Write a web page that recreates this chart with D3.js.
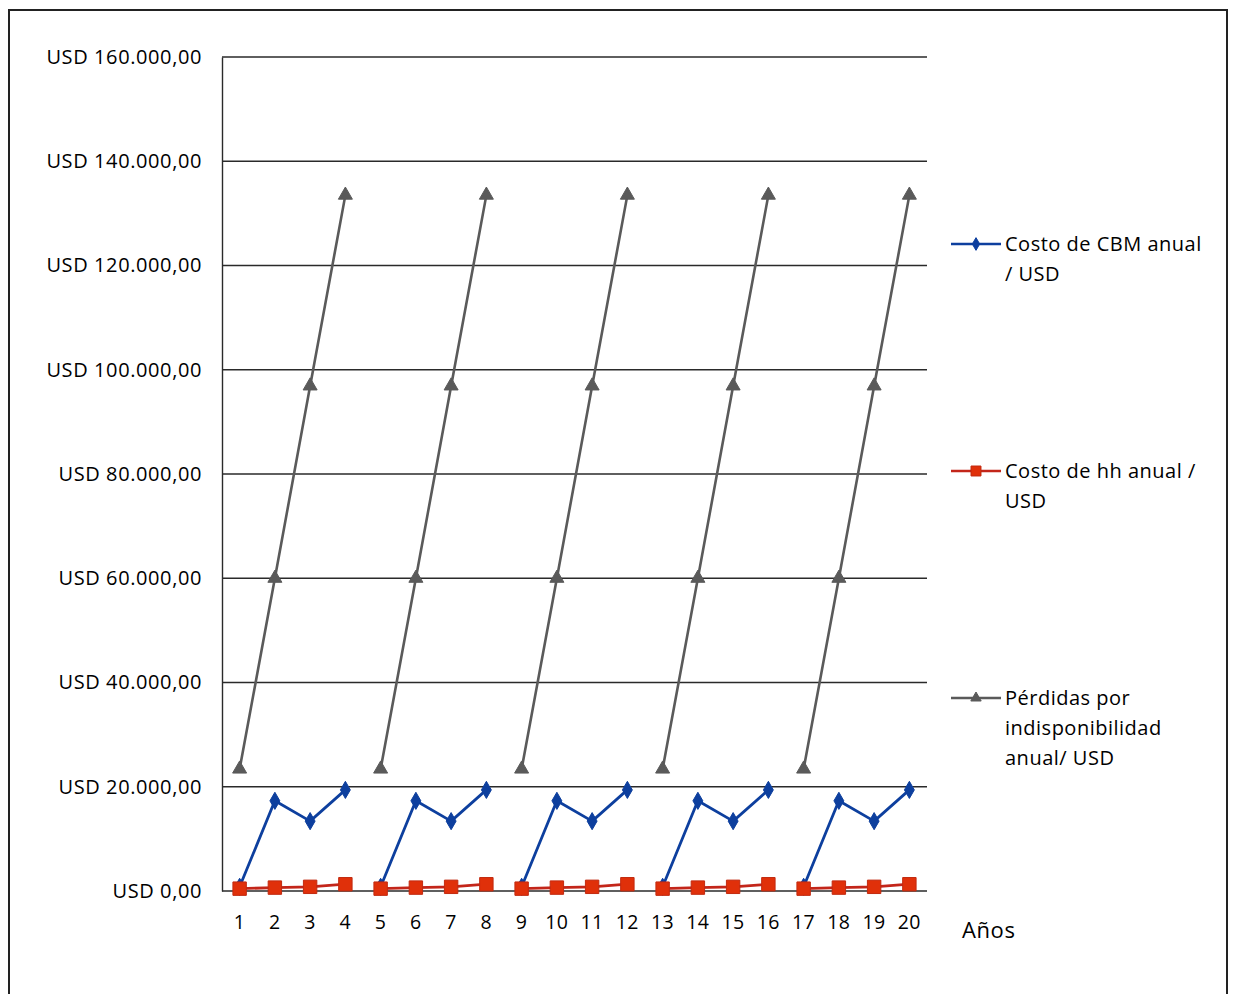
<!DOCTYPE html>
<html>
<head>
<meta charset="utf-8">
<script src="https://cdn.jsdelivr.net/npm/d3@7/dist/d3.min.js"></script>
<style>
  html, body { margin: 0; padding: 0; background: #fff; }
  svg { display: block; }
  text { font-family: "Open Sans", "Liberation Sans", sans-serif; fill: #000; }
</style>
</head>
<body>
<svg id="chart" width="1234" height="994"></svg>
<script>
// Years on the x axis
const years = ["1","2","3","4","5","6","7","8","9","10","11","12","13","14","15","16","17","18","19","20"];

// Annual CBM cost (USD)
const costoCBM = [800, 17300, 13400, 19400, 800, 17300, 13400, 19400, 800, 17300, 13400, 19400,
                  800, 17300, 13400, 19400, 800, 17300, 13400, 19400];
// Annual man-hour cost (USD)
const costoHH = [450, 650, 800, 1300, 450, 650, 800, 1300, 450, 650, 800, 1300,
                 450, 650, 800, 1300, 450, 650, 800, 1300];
// Annual unavailability losses (USD)
const perdidas = [23400, 60000, 96900, 133500, 23400, 60000, 96900, 133500, 23400, 60000, 96900, 133500,
                  23400, 60000, 96900, 133500, 23400, 60000, 96900, 133500];

// Maintenance cycle length in years: lines restart at each cycle
const cycleLength = 4;

const yTicks = [0, 20000, 40000, 60000, 80000, 100000, 120000, 140000, 160000];

const seriesNames = [
  ["Costo de CBM anual", "/ USD"],
  ["Costo de hh anual /", "USD"],
  ["Pérdidas por", "indisponibilidad", "anual/ USD"]
];

const series = [
  { values: costoCBM, color: "#0d3f9e", symbol: d3.symbolDiamond, size: 85, fill: "#0d3f9e", stroke: "#0d3f9e", width: 2.8 },
  { values: costoHH,  color: "#c3261a", symbol: d3.symbolSquare,  size: 180, fill: "#e0300a", stroke: "#c22a10", width: 2.8 },
  { values: perdidas, color: "#5a5a5a", symbol: d3.symbolTriangle, size: 85, fill: "#5a5a5a", stroke: "#5a5a5a", width: 2.6 }
];

const svg = d3.select("#chart");

// Outer frame
svg.append("rect")
  .attr("x", 9).attr("y", 10).attr("width", 1218).attr("height", 1000)
  .attr("fill", "none").attr("stroke", "#222").attr("stroke-width", 2);

const plot = { left: 222, right: 927, top: 57, bottom: 891 };

const x = d3.scaleBand().domain(years).range([plot.left, plot.right]);
const y = d3.scaleLinear().domain([0, 160000]).range([plot.bottom, plot.top]);

const locale = d3.formatLocale({ decimal: ",", thousands: ".", grouping: [3], currency: ["", ""] });
const fmt = locale.format(",.2f");

// Horizontal gridlines
svg.append("g")
  .selectAll("line")
  .data(yTicks)
  .join("line")
  .attr("x1", plot.left).attr("x2", plot.right)
  .attr("y1", d => y(d)).attr("y2", d => y(d))
  .attr("stroke", "#2a2a2a").attr("stroke-width", 1.4);

// Y axis
const yAxis = svg.append("g")
  .attr("transform", `translate(${plot.left},0)`)
  .call(d3.axisLeft(y).tickValues(yTicks).tickSize(0).tickPadding(20).tickFormat(d => "USD " + fmt(d)));
yAxis.select(".domain").attr("stroke", "#2a2a2a").attr("stroke-width", 1.4);
yAxis.selectAll("text")
  .style("font-family", "'Open Sans', sans-serif")
  .style("font-size", "20px")
  .style("letter-spacing", "0.6px")
  .attr("fill", "#000");

// X axis labels
const xAxis = svg.append("g")
  .attr("transform", `translate(0,${plot.bottom})`)
  .call(d3.axisBottom(x).tickSize(0).tickPadding(24));
xAxis.select(".domain").remove();
xAxis.selectAll("text")
  .style("font-family", "'Open Sans', sans-serif")
  .style("font-size", "19.5px")
  .style("letter-spacing", "0.5px")
  .attr("fill", "#000");

svg.append("text")
  .attr("x", 962).attr("y", 938)
  .style("font-size", "22px")
  .style("letter-spacing", "0.6px")
  .text("Años");

const cx = d => x(d) + x.bandwidth() / 2;

const line = d3.line()
  .x(d => cx(d.year))
  .y(d => y(d.value));

series.forEach(s => {
  const pts = s.values.map((v, i) => ({ year: years[i], value: v, cycle: Math.floor(i / cycleLength) }));
  const groups = d3.groups(pts, d => d.cycle).map(g => g[1]);
  const g = svg.append("g");
  g.selectAll("path.line")
    .data(groups)
    .join("path")
    .attr("class", "line")
    .attr("d", line)
    .attr("fill", "none")
    .attr("stroke", s.color)
    .attr("stroke-width", s.width)
    .attr("stroke-linejoin", "round");
  g.selectAll("path.marker")
    .data(pts)
    .join("path")
    .attr("class", "marker")
    .attr("transform", d => `translate(${cx(d.year)},${y(d.value)})`)
    .attr("d", d3.symbol(s.symbol, s.size))
    .attr("fill", s.fill)
    .attr("stroke", s.stroke)
    .attr("stroke-width", 1);
});

// Legend
const legendY = [244, 471, 698];
series.forEach((s, i) => {
  const g = svg.append("g").attr("transform", `translate(0,${legendY[i]})`);
  g.append("line")
    .attr("x1", 951).attr("x2", 1001).attr("y1", 0).attr("y2", 0)
    .attr("stroke", s.color).attr("stroke-width", 2.6);
  g.append("path")
    .attr("transform", "translate(976,0)")
    .attr("d", d3.symbol(s.symbol, s.size * 0.55))
    .attr("fill", s.fill).attr("stroke", s.stroke);
  const t = g.append("text")
    .attr("x", 1005).attr("y", 7)
    .style("font-size", "20px")
    .style("letter-spacing", "0.5px");
  seriesNames[i].forEach((ln, k) => {
    t.append("tspan").attr("x", 1005).attr("dy", k === 0 ? 0 : 30).text(ln);
  });
});
</script>
</body>
</html>
